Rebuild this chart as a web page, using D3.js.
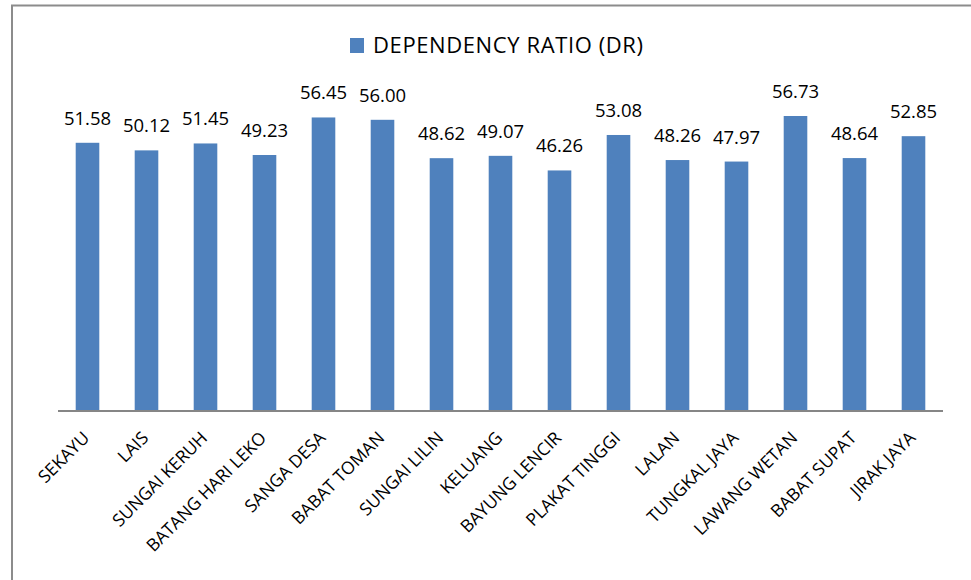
<!DOCTYPE html>
<html>
<head>
<meta charset="utf-8">
<script src="https://cdn.jsdelivr.net/npm/d3@7"></script>
<style>
  html, body { margin: 0; padding: 0; background: #fff; }
  svg { display: block; font-family: "Open Sans", sans-serif; }
</style>
</head>
<body>
<div id="chart"></div>
<script>
const villages = [
  "SEKAYU", "LAIS", "SUNGAI KERUH", "BATANG HARI LEKO", "SANGA DESA",
  "BABAT TOMAN", "SUNGAI LILIN", "KELUANG", "BAYUNG LENCIR", "PLAKAT TINGGI",
  "LALAN", "TUNGKAL JAYA", "LAWANG WETAN", "BABAT SUPAT", "JIRAK JAYA"
];
const dependencyRatio = [
  51.58, 50.12, 51.45, 49.23, 56.45,
  56.00, 48.62, 49.07, 46.26, 53.08,
  48.26, 47.97, 56.73, 48.64, 52.85
];
const seriesName = "DEPENDENCY RATIO (DR)";
const yDomain = [0, 60];

const width = 971, height = 580;
const plot = { left: 58, right: 943, top: 99, bottom: 411 };
const barColor = "#4F81BD";

const svg = d3.select("#chart").append("svg")
  .attr("width", width)
  .attr("height", height);

// frame (only top and left edges show in the crop)
svg.append("path")
  .attr("d", `M12,${height} L12,5.5 L${width},5.5`)
  .attr("fill", "none")
  .attr("stroke", "#8c8c8c")
  .attr("stroke-width", 2);

const x = d3.scaleBand()
  .domain(villages)
  .range([plot.left, plot.right])
  .paddingInner(0.6)
  .paddingOuter(0.3);

const y = d3.scaleLinear()
  .domain(yDomain)
  .range([plot.bottom, plot.top]);

const data = villages.map((name, i) => ({ name, value: dependencyRatio[i] }));

svg.append("g")
  .selectAll("rect")
  .data(data)
  .join("rect")
  .attr("x", d => x(d.name))
  .attr("y", d => y(d.value))
  .attr("width", x.bandwidth())
  .attr("height", d => y(0) - y(d.value))
  .attr("fill", barColor);

// value labels
svg.append("g")
  .attr("font-size", 18.5)
  .attr("fill", "#000")
  .attr("text-anchor", "middle")
  .selectAll("text")
  .data(data)
  .join("text")
  .attr("x", d => x(d.name) + x.bandwidth() / 2)
  .attr("y", d => y(d.value) - 18)
  .text(d => d.value.toFixed(2));

// x axis
const xAxis = svg.append("g")
  .attr("transform", `translate(0,${plot.bottom})`)
  .call(d3.axisBottom(x).tickSize(0).tickPadding(0));
xAxis.select(".domain")
  .attr("stroke", "#868686")
  .attr("stroke-width", 2)
  .attr("d", `M${plot.left},0H${plot.right}`);
xAxis.selectAll(".tick text")
  .attr("font-family", "Open Sans, sans-serif")
  .attr("font-size", 17.5)
  .attr("fill", "#000")
  .attr("text-anchor", "end")
  .attr("y", 0)
  .attr("dy", 0)
  .attr("transform", "translate(3,28) rotate(-45)");

// legend
const legend = svg.append("g").attr("transform", "translate(350,38)");
legend.append("rect")
  .attr("width", 14)
  .attr("height", 15)
  .attr("fill", barColor);
legend.append("text")
  .attr("x", 23)
  .attr("y", 15)
  .attr("font-size", 22)
  .attr("fill", "#000")
  .attr("textLength", 270)
  .attr("lengthAdjust", "spacing")
  .text(seriesName);
</script>
</body>
</html>
